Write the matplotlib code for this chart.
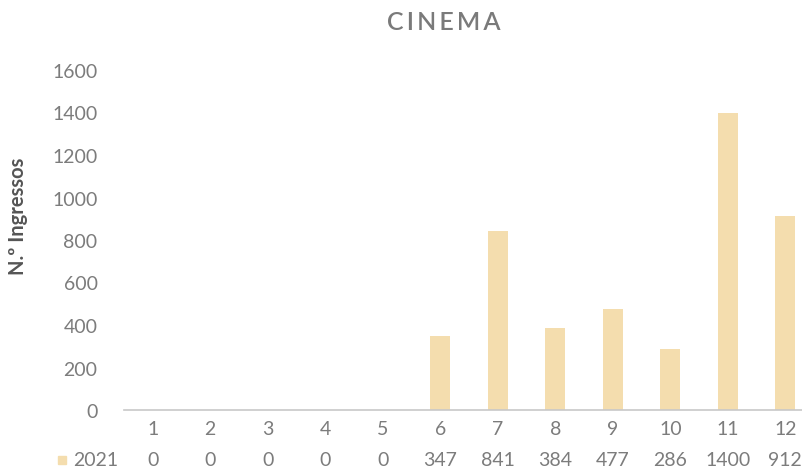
import matplotlib.pyplot as plt

# data
months = ["1", "2", "3", "4", "5", "6", "7", "8", "9", "10", "11", "12"]
tickets_2021 = [0, 0, 0, 0, 0, 347, 841, 384, 477, 286, 1400, 912]
series_name = "2021"
yticks = [0, 200, 400, 600, 800, 1000, 1200, 1400, 1600]

bar_color = "#F4DDAE"
text_gray = "#7c7c7c"
lbl_weight = "normal"

plt.rcParams['font.family'] = ['Lato', 'DejaVu Sans']

fig = plt.figure(figsize=(8.02, 4.77), dpi=100)
ax = fig.add_axes([124 / 802, 66 / 477, 1 - 124 / 802, 340 / 477])

x = list(range(len(months)))
ax.bar(x, tickets_2021, width=0.35, color=bar_color, zorder=2)

ax.set_xlim(-0.5, 11.29)
ax.set_ylim(0, 1600)
ax.set_yticks(yticks)
ax.set_yticklabels([str(v) for v in yticks], fontsize=14, color=text_gray,
                   fontweight=lbl_weight)
ax.tick_params(axis="y", length=0, pad=19)
ax.set_xticks([])
for s in ["top", "right", "left"]:
    ax.spines[s].set_visible(False)
ax.spines["bottom"].set_color("#c8c8c8")
ax.spines["bottom"].set_linewidth(1.2)
ax.spines["bottom"].set_linestyle((0, (2, 1)))

# data table under the axis
trans = ax.get_xaxis_transform()
for xi, m, v in zip(x, months, tickets_2021):
    ax.text(xi, -0.055, m, transform=trans, ha="center", va="center",
            fontsize=14, color=text_gray, fontweight=lbl_weight)
    ax.text(xi, -0.146, str(v), transform=trans, ha="center", va="center",
            fontsize=14, color=text_gray, fontweight=lbl_weight)

fig.text(96 / 802, 1 - 461 / 477, series_name, ha="center", va="center",
         fontsize=14, color=text_gray, fontweight=lbl_weight)
fig.patches.append(plt.Rectangle((58 / 802, 1 - 465 / 477), 8 / 802, 8 / 477,
                                 transform=fig.transFigure, color=bar_color))

fig.text(444 / 802, 1 - 23 / 477, "\u2009".join("CINEMA"), ha="center", va="center",
         fontsize=18, color="#7a7a7a", fontweight="semibold")
fig.text(18 / 802, 1 - 216 / 477, "N.º Ingressos", ha="center", va="center",
         rotation=90, fontsize=14.5, color="#555555", fontweight="bold")

fig.savefig("out.png", dpi=100)
